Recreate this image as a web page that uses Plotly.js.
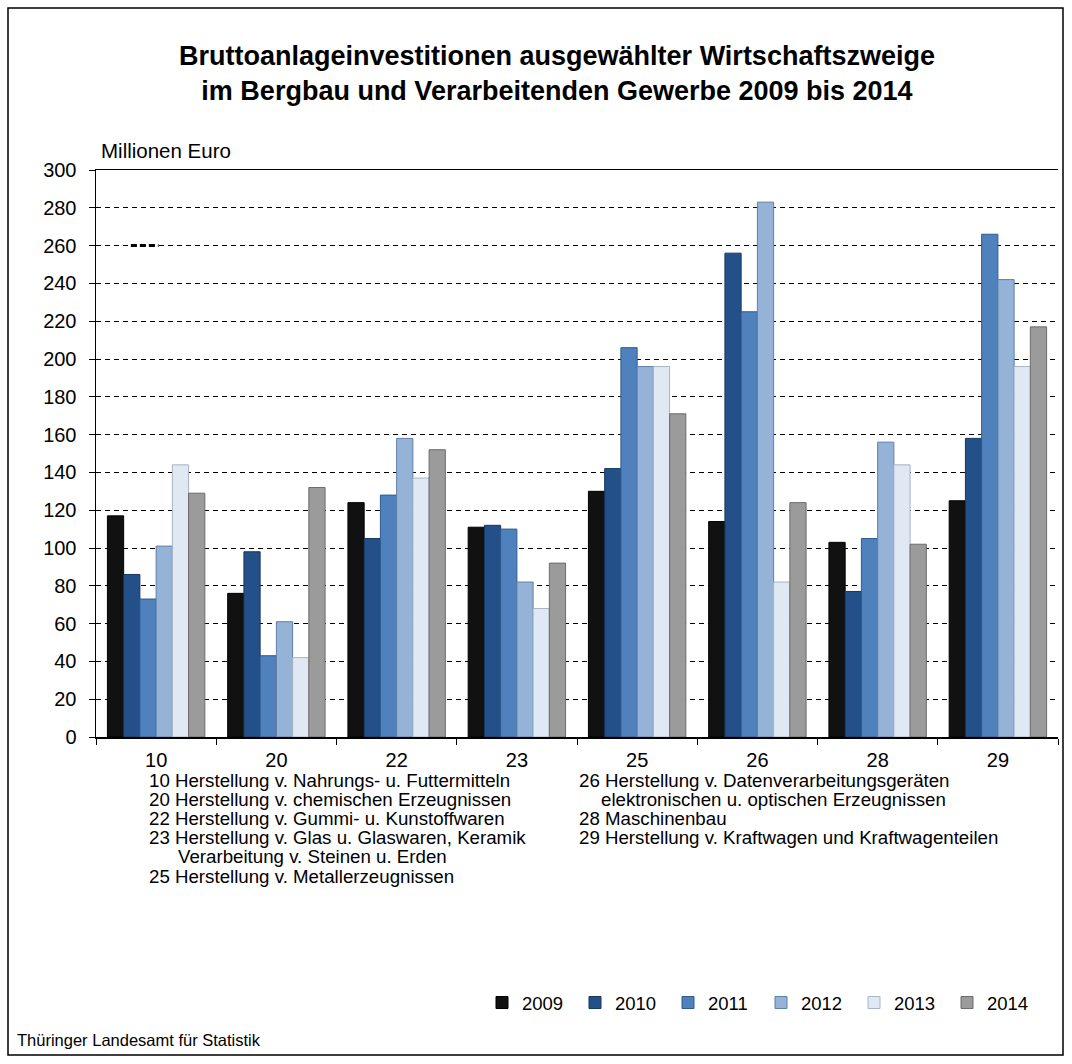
<!DOCTYPE html>
<html><head><meta charset="utf-8">
<script src="https://cdn.plot.ly/plotly-3.0.1.min.js"></script>
<style>html,body{margin:0;padding:0;background:#fff;}</style>
</head><body>
<div id="chart" style="width:1072px;height:1064px;"></div>
<script>
const categories = ["10", "20", "22", "23", "25", "26", "28", "29"];
const years = ["2009", "2010", "2011", "2012", "2013", "2014"];
const v2009 = [117, 76, 124, 111, 130, 114, 103, 125];
const v2010 = [86, 98, 105, 112, 142, 256, 77, 158];
const v2011 = [73, 43, 128, 110, 206, 225, 105, 266];
const v2012 = [101, 61, 158, 82, 196, 283, 156, 242];
const v2013 = [144, 42, 137, 68, 196, 82, 144, 196];
const v2014 = [129, 132, 152, 92, 171, 124, 102, 217];
const seriesValues = [v2009, v2010, v2011, v2012, v2013, v2014];
const colors = ["#111111", "#24508a", "#4f81bd", "#95b3d7", "#dfe8f3", "#9b9b9b"];
const edgeColors = ["#000000", "#17365d", "#2f5b8f", "#5f7fa8", "#a8b4c2", "#6b6b6b"];

const footLeft = [
  "10 Herstellung v. Nahrungs- u. Futtermitteln",
  "20 Herstellung v. chemischen Erzeugnissen",
  "22 Herstellung v. Gummi- u. Kunstoffwaren",
  "23 Herstellung v. Glas u. Glaswaren, Keramik",
  "Verarbeitung v. Steinen u. Erden",
  "25 Herstellung v. Metallerzeugnissen"
];
const footLeftIndent = [false, false, false, false, true, false];
const footRight = [
  "26 Herstellung v. Datenverarbeitungsgeräten",
  "elektronischen u. optischen Erzeugnissen",
  "28 Maschinenbau",
  "29 Herstellung v. Kraftwagen und Kraftwagenteilen"
];
const footRightIndent = [false, true, false, false];

const W = 1072, H = 1064;
const L = 96, R = 14, T = 170, B = 327;
const pw = W - L - R, ph = H - T - B;
const px = x => (x - L) / pw;
const py = y => (H - B - y) / ph;

const traces = years.map((yr, i) => ({
  type: "bar",
  name: yr,
  x: categories,
  y: seriesValues[i],
  marker: { color: colors[i], line: { color: edgeColors[i], width: 1 } },
  hoverinfo: "x+y+name"
}));

const font = "Liberation Sans, Arial, sans-serif";
const annotations = [];
annotations.push({ text: "Millionen Euro", xref: "paper", yref: "paper", x: px(99), y: py(151),
  xanchor: "left", yanchor: "middle", showarrow: false, font: { family: font, size: 20.5, color: "#000" } });
footLeft.forEach((t, i) => annotations.push({ text: t, xref: "paper", yref: "paper",
  x: px(footLeftIndent[i] ? 176 : 147), y: py(780 + i * 19.2), xanchor: "left", yanchor: "middle",
  showarrow: false, font: { family: font, size: 18.7, color: "#000" } }));
footRight.forEach((t, i) => annotations.push({ text: t, xref: "paper", yref: "paper",
  x: px(footRightIndent[i] ? 599 : 577), y: py(780 + i * 19.2), xanchor: "left", yanchor: "middle",
  showarrow: false, font: { family: font, size: 18.7, color: "#000" } }));
annotations.push({ text: "Thüringer Landesamt für Statistik", xref: "paper", yref: "paper", x: px(15), y: py(1040),
  xanchor: "left", yanchor: "middle", showarrow: false, font: { family: font, size: 16.5, color: "#000" } });

const shapes = [
  { type: "rect", xref: "paper", yref: "paper", x0: px(8), x1: px(1063), y0: py(1055), y1: py(8),
    line: { color: "#000", width: 1.5 }, fillcolor: "rgba(0,0,0,0)", layer: "below" },
  { type: "line", xref: "x", yref: "y", x0: -0.21, x1: 0.02, y0: 260, y1: 260,
    line: { color: "#000", width: 3, dash: "6px,3px" } }
];

const layout = {
  width: W, height: H,
  margin: { l: L, r: R, t: T, b: B, pad: 0 },
  paper_bgcolor: "#fff", plot_bgcolor: "#fff",
  font: { family: font, color: "#000", size: 17 },
  title: {
    text: "<b>Bruttoanlageinvestitionen ausgewählter Wirtschaftszweige<br>im Bergbau und Verarbeitenden Gewerbe 2009 bis 2014</b>",
    font: { family: font, size: 27, color: "#000" },
    x: px(557), xref: "paper", xanchor: "center", y: 1 - 65 / H, yanchor: "middle", yref: "container"
  },
  barmode: "group", bargap: 0.19, bargroupgap: 0,
  xaxis: {
    type: "category", showgrid: false, showline: true, linecolor: "#000", linewidth: 1.5, mirror: true,
    ticks: "outside", tickson: "boundaries", ticklen: 6, tickcolor: "#000", tickwidth: 1,
    ticklabelstandoff: 4,
    tickfont: { family: font, size: 20, color: "#000" }, fixedrange: true
  },
  yaxis: {
    range: [0, 300], dtick: 20, tick0: 0, showgrid: true, gridcolor: "#000", gridwidth: 1, griddash: "5px,4px",
    showline: true, linecolor: "#000", linewidth: 1.5, zeroline: false,
    ticks: "outside", ticklen: 6, tickcolor: "#000", tickwidth: 1,
    ticklabelstandoff: 8,
    tickfont: { family: font, size: 20, color: "#000" }, fixedrange: true
  },
  legend: {
    orientation: "h", x: px(482), y: py(1003), xanchor: "left", yanchor: "middle",
    font: { family: font, size: 18.5, color: "#000" }, entrywidth: 48, entrywidthmode: "pixels",
    itemwidth: 30, bgcolor: "rgba(0,0,0,0)", traceorder: "normal"
  },
  annotations: annotations,
  shapes: shapes,
  showlegend: true
};

Plotly.newPlot("chart", traces, layout, { displayModeBar: false, staticPlot: true });
</script>
</body></html>
